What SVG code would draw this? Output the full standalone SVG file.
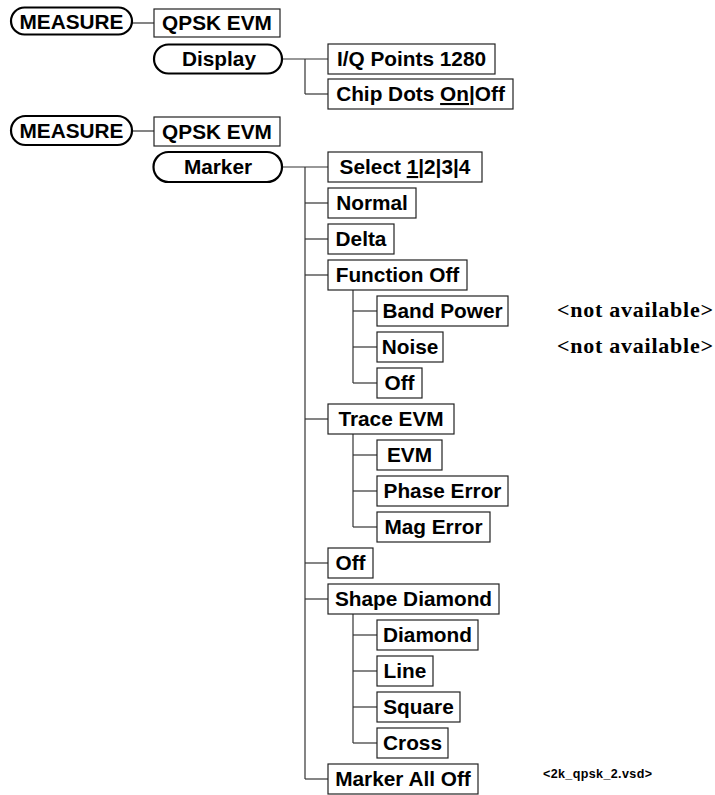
<svg xmlns="http://www.w3.org/2000/svg" width="715" height="795" viewBox="0 0 715 795">
<style>
.pill{fill:#fff;stroke:#000;stroke-width:2.2}
.box{fill:#fff;stroke:#222;stroke-width:1.2}
.t{font-family:"Liberation Sans",Arial,sans-serif;font-weight:bold;font-size:20.8px;fill:#000;text-anchor:middle}
.na{font-family:"Liberation Serif","Times New Roman",serif;font-weight:bold;font-size:22px;fill:#000}
.fn{font-family:"Liberation Sans",Arial,sans-serif;font-weight:bold;font-size:12.5px;fill:#000}
.c line{stroke:#333;stroke-width:1.2}
.u{text-decoration:underline}
</style>
<rect width="715" height="795" fill="#fff"/>
<g class="c" id="connectors">
<line x1="132" y1="23" x2="154" y2="23"/>
<line x1="282" y1="59" x2="328" y2="59"/>
<line x1="305" y1="59" x2="305" y2="94"/>
<line x1="305" y1="94" x2="328" y2="94"/>
<line x1="132" y1="131" x2="154" y2="131"/>
<line x1="282" y1="167" x2="328" y2="167"/>
<line x1="305" y1="167" x2="305" y2="779"/>
<line x1="305" y1="203" x2="328" y2="203"/>
<line x1="305" y1="239" x2="328" y2="239"/>
<line x1="305" y1="275" x2="328" y2="275"/>
<line x1="305" y1="419" x2="328" y2="419"/>
<line x1="305" y1="563" x2="328" y2="563"/>
<line x1="305" y1="599" x2="328" y2="599"/>
<line x1="305" y1="779" x2="328" y2="779"/>
<line x1="353" y1="290" x2="353" y2="383"/>
<line x1="353" y1="311" x2="377" y2="311"/>
<line x1="353" y1="347" x2="377" y2="347"/>
<line x1="353" y1="383" x2="377" y2="383"/>
<line x1="353" y1="434" x2="353" y2="527"/>
<line x1="353" y1="455" x2="377" y2="455"/>
<line x1="353" y1="491" x2="377" y2="491"/>
<line x1="353" y1="527" x2="377" y2="527"/>
<line x1="353" y1="614" x2="353" y2="743"/>
<line x1="353" y1="635" x2="377" y2="635"/>
<line x1="353" y1="671" x2="377" y2="671"/>
<line x1="353" y1="707" x2="377" y2="707"/>
<line x1="353" y1="743" x2="377" y2="743"/>
</g>
<g id="measure1"><rect class="pill" x="11" y="7.5" width="121" height="27" rx="13.5"/><text class="t" x="71.5" y="29">MEASURE</text></g>
<g id="qpsk1"><rect class="box" x="154" y="9" width="126" height="28"/><text class="t" x="217" y="30">QPSK EVM</text></g>
<g id="display"><rect class="pill" x="154" y="44.5" width="128" height="29" rx="14.5"/><text class="t" x="219" y="66">Display</text></g>
<g id="iq"><rect class="box" x="328" y="44" width="167" height="30"/><text class="t" x="411.5" y="66">I/Q Points 1280</text></g>
<g id="chip"><rect class="box" x="328" y="79" width="185" height="30"/><text class="t" x="420.5" y="101">Chip Dots <tspan class="u">On</tspan>|Off</text></g>
<g id="measure2"><rect class="pill" x="11" y="116" width="121" height="29" rx="14.5"/><text class="t" x="71.5" y="138">MEASURE</text></g>
<g id="qpsk2"><rect class="box" x="154" y="117" width="126" height="29"/><text class="t" x="217" y="139">QPSK EVM</text></g>
<g id="marker"><rect class="pill" x="153.5" y="152" width="128.5" height="30" rx="15"/><text class="t" x="218" y="174">Marker</text></g>
<g id="select"><rect class="box" x="328" y="152" width="154" height="30"/><text class="t" x="405" y="174">Select  <tspan class="u">1</tspan>|2|3|4</text></g>
<g id="normal"><rect class="box" x="328" y="188" width="88" height="30"/><text class="t" x="372" y="210">Normal</text></g>
<g id="delta"><rect class="box" x="328" y="224" width="66" height="30"/><text class="t" x="361" y="246">Delta</text></g>
<g id="function"><rect class="box" x="328" y="260" width="139" height="30"/><text class="t" x="397.5" y="282">Function Off</text></g>
<g id="bandpower"><rect class="box" x="377" y="296" width="131" height="30"/><text class="t" x="442.5" y="318">Band Power</text></g>
<g id="noise"><rect class="box" x="377" y="332" width="66" height="30"/><text class="t" x="410" y="354">Noise</text></g>
<g id="fnoff"><rect class="box" x="377" y="368" width="45" height="30"/><text class="t" x="399.5" y="390">Off</text></g>
<text class="na" x="557" y="317" textLength="156" lengthAdjust="spacing">&lt;not available&gt;</text>
<text class="na" x="557" y="353" textLength="156" lengthAdjust="spacing">&lt;not available&gt;</text>
<g id="trace"><rect class="box" x="328" y="404" width="126" height="30"/><text class="t" x="391" y="426">Trace EVM</text></g>
<g id="evm"><rect class="box" x="377" y="440" width="65" height="30"/><text class="t" x="409.5" y="462">EVM</text></g>
<g id="phase"><rect class="box" x="377" y="476" width="131" height="30"/><text class="t" x="442.5" y="498">Phase Error</text></g>
<g id="mag"><rect class="box" x="377" y="512" width="113" height="30"/><text class="t" x="433.5" y="534">Mag Error</text></g>
<g id="off"><rect class="box" x="328" y="548" width="45" height="30"/><text class="t" x="350.5" y="570">Off</text></g>
<g id="shape"><rect class="box" x="328" y="584" width="171" height="30"/><text class="t" x="413.5" y="606">Shape Diamond</text></g>
<g id="diamond"><rect class="box" x="377" y="620" width="101" height="30"/><text class="t" x="427.5" y="642">Diamond</text></g>
<g id="line"><rect class="box" x="377" y="656" width="56" height="30"/><text class="t" x="405" y="678">Line</text></g>
<g id="square"><rect class="box" x="377" y="692" width="83" height="30"/><text class="t" x="418.5" y="714">Square</text></g>
<g id="cross"><rect class="box" x="377" y="728" width="71" height="30"/><text class="t" x="412.5" y="750">Cross</text></g>
<g id="alloff"><rect class="box" x="328" y="764" width="150" height="30"/><text class="t" x="403" y="786">Marker All Off</text></g>
<text class="fn" x="543" y="778" textLength="109" lengthAdjust="spacing">&lt;2k_qpsk_2.vsd&gt;</text>
</svg>
